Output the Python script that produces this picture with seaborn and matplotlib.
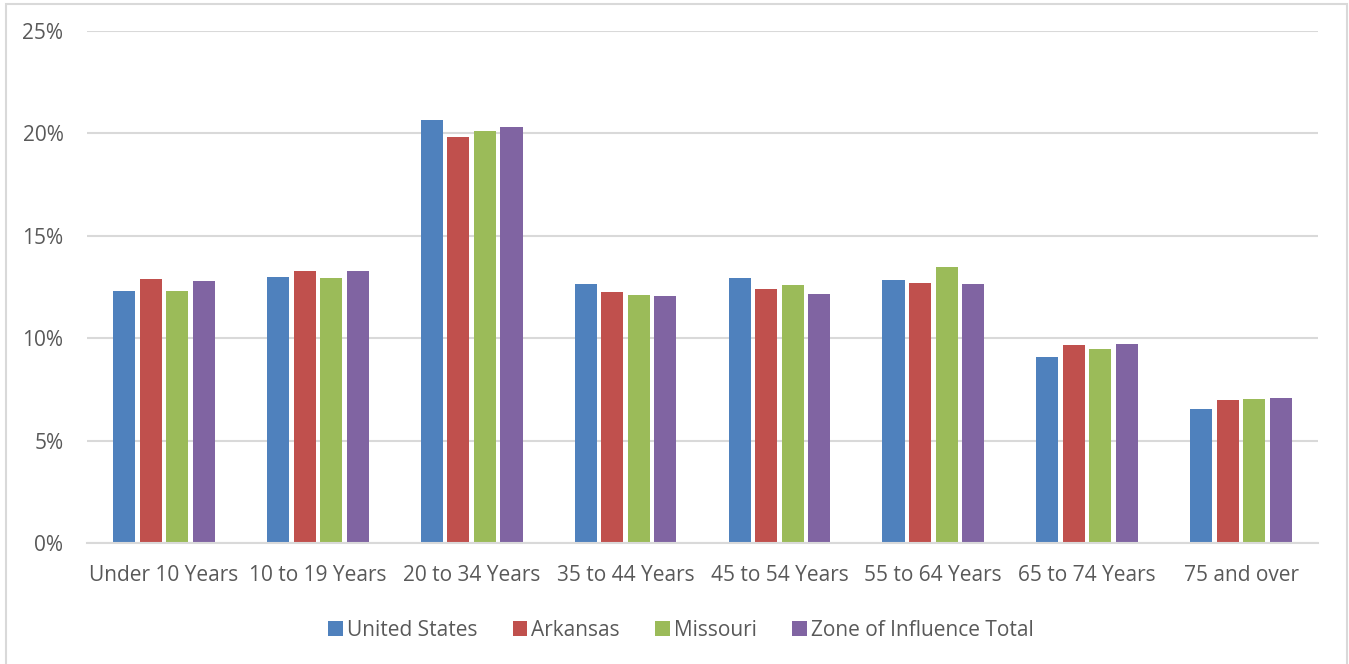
import matplotlib
matplotlib.use("Agg")
import matplotlib.pyplot as plt
import seaborn as sns
import pandas as pd
from matplotlib.patches import Rectangle
from matplotlib.ticker import FuncFormatter

categories = ["Under 10 Years", "10 to 19 Years", "20 to 34 Years", "35 to 44 Years",
              "45 to 54 Years", "55 to 64 Years", "65 to 74 Years", "75 and over"]
series_names = ["United States", "Arkansas", "Missouri", "Zone of Influence Total"]
united_states = [12.29, 12.99, 20.65, 12.63, 12.94, 12.86, 9.08, 6.54]
arkansas = [12.89, 13.30, 19.81, 12.27, 12.40, 12.70, 9.68, 6.97]
missouri = [12.30, 12.92, 20.12, 12.09, 12.60, 13.48, 9.47, 7.03]
zone_total = [12.78, 13.28, 20.31, 12.04, 12.16, 12.63, 9.70, 7.07]
colors = ["#4F81BD", "#C0504D", "#9BBB59", "#8064A2"]

rows = []
for name, vals in zip(series_names, [united_states, arkansas, missouri, zone_total]):
    for c, v in zip(categories, vals):
        rows.append({"Age": c, "Series": name, "Value": v})
df = pd.DataFrame(rows)

sns.set_theme(style="white")
plt.rcParams['font.family'] = ['Open Sans', 'DejaVu Sans']
text_color = "#595959"
grid_color = "#D9D9D9"

fig = plt.figure(figsize=(13.49, 6.64), dpi=100)
ax = fig.add_axes([87/1349, 1 - 543/664, (1318-87)/1349, (543-31)/664])

sns.barplot(data=df, x="Age", y="Value", hue="Series", order=categories,
            hue_order=series_names, palette=colors, width=0.69, gap=0.17,
            saturation=1, ax=ax, legend=True, edgecolor="none")

ax.set_ylim(0, 25)
ax.set_xlim(-0.5, len(categories) - 0.5)
ax.set_yticks([0, 5, 10, 15, 20, 25])
ax.yaxis.set_major_formatter(FuncFormatter(lambda v, p: f"{int(v)}%"))
ax.set_xlabel("")
ax.set_ylabel("")
ax.grid(axis="y", color=grid_color, linewidth=1.5)
ax.set_axisbelow(True)
for s in ["top", "right", "left"]:
    ax.spines[s].set_visible(False)
ax.spines["bottom"].set_color(grid_color)
ax.spines["bottom"].set_linewidth(1.5)
ax.tick_params(axis="both", length=0, colors=text_color, labelsize=15)
ax.tick_params(axis="y", pad=17)
ax.tick_params(axis="x", pad=16)

handles, labels = ax.get_legend_handles_labels()
ax.legend_.remove()
fig.legend(handles, labels, loc="center", bbox_to_anchor=(681/1349, 1 - 630/664),
           ncol=4, frameon=False, fontsize=15, labelcolor=text_color,
           handlelength=0.7, handleheight=0.7, handletextpad=0.2, columnspacing=1.7)

fig.patches.append(Rectangle((6/1349, -0.02), (1347-6)/1349, 1 - 4/664 + 0.02,
                             transform=fig.transFigure, fill=False,
                             edgecolor="#D9D9D9", linewidth=1.5))

fig.savefig("out.png", dpi=100, facecolor="white")
